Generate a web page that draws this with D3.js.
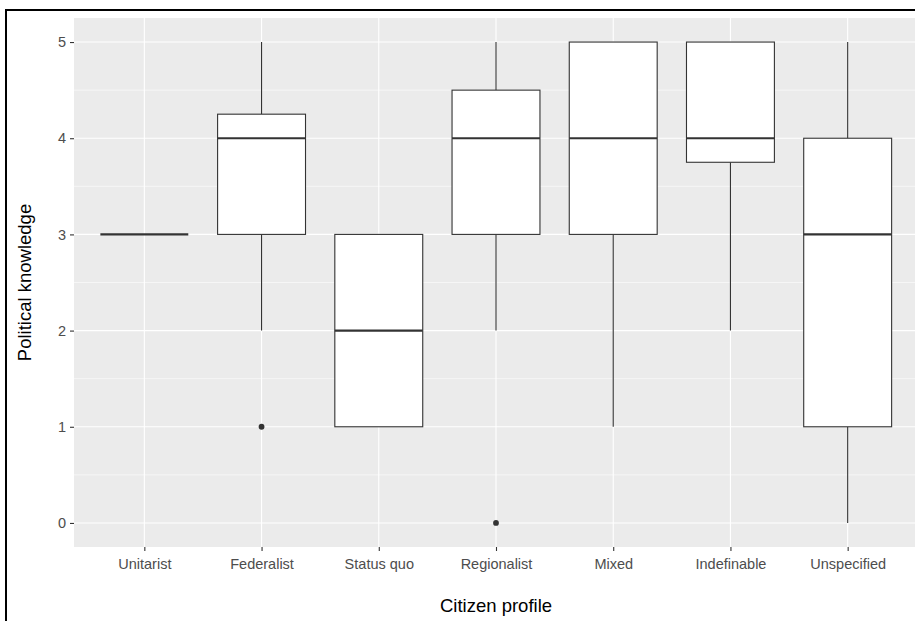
<!DOCTYPE html>
<html>
<head>
<meta charset="utf-8">
<script src="https://cdn.jsdelivr.net/npm/d3@7"></script>
<style>
  body { margin: 0; background: #fff; }
  svg { display: block; font-family: "Liberation Sans", Arial, sans-serif; }
</style>
</head>
<body>
<script>
const width = 915
const height = 621
const margin = {top: 18, right: -3, bottom: 74, left: 74}

// data
const categories = ["Unitarist", "Federalist", "Status quo", "Regionalist", "Mixed", "Indefinable", "Unspecified"]
const lowerWhisker = [3, 2, 1, 2, 1, 2, 0]
const q1           = [3, 3, 1, 3, 3, 3.75, 1]
const median       = [3, 4, 2, 4, 4, 4, 3]
const q3           = [3, 4.25, 3, 4.5, 5, 5, 4]
const upperWhisker = [3, 5, 3, 5, 5, 5, 5]
const outliers     = [[], [1], [], [0], [], [], []]
const yTicks = [0, 1, 2, 3, 4, 5]

const boxes = categories.map((c, i) => ({
  cat: c, lo: lowerWhisker[i], q1: q1[i], med: median[i], q3: q3[i], hi: upperWhisker[i], out: outliers[i]
}))

const svg = d3.select("body").append("svg")
  .attr("width", width)
  .attr("height", height)

const x0 = margin.left, x1 = width - margin.right
const y0 = margin.top, y1 = height - margin.bottom

// ggplot style discrete expansion of 0.6 on each side
const step = (x1 - x0) / (categories.length - 1 + 1.2)
const x = d3.scalePoint()
  .domain(categories)
  .range([x0 + 0.6 * step, x1 - 0.6 * step])

const y = d3.scaleLinear()
  .domain([-0.25, 5.25])
  .range([y1, y0])

const boxW = step * 0.75

// panel
svg.append("rect")
  .attr("x", x0).attr("y", y0)
  .attr("width", x1 - x0).attr("height", y1 - y0)
  .attr("fill", "#EBEBEB")

// minor grid
svg.append("g").selectAll("line")
  .data([-0.5, 0.5, 1.5, 2.5, 3.5, 4.5].filter(d => y(d) > y0 && y(d) < y1))
  .join("line")
  .attr("x1", x0).attr("x2", x1)
  .attr("y1", d => y(d)).attr("y2", d => y(d))
  .attr("stroke", "#fff").attr("stroke-width", 0.55)

// major grid
svg.append("g").selectAll("line")
  .data(yTicks)
  .join("line")
  .attr("x1", x0).attr("x2", x1)
  .attr("y1", d => y(d)).attr("y2", d => y(d))
  .attr("stroke", "#fff").attr("stroke-width", 1.1)

svg.append("g").selectAll("line")
  .data(categories)
  .join("line")
  .attr("x1", d => x(d)).attr("x2", d => x(d))
  .attr("y1", y0).attr("y2", y1)
  .attr("stroke", "#fff").attr("stroke-width", 1.1)

// boxplots
const g = svg.append("g").selectAll("g")
  .data(boxes)
  .join("g")

g.append("line")
  .attr("x1", d => x(d.cat)).attr("x2", d => x(d.cat))
  .attr("y1", d => y(d.hi)).attr("y2", d => y(d.q3))
  .attr("stroke", "#333").attr("stroke-width", 1.1)

g.append("line")
  .attr("x1", d => x(d.cat)).attr("x2", d => x(d.cat))
  .attr("y1", d => y(d.q1)).attr("y2", d => y(d.lo))
  .attr("stroke", "#333").attr("stroke-width", 1.1)

g.append("rect")
  .attr("x", d => x(d.cat) - boxW / 2)
  .attr("width", boxW)
  .attr("y", d => y(d.q3))
  .attr("height", d => y(d.q1) - y(d.q3))
  .attr("fill", "#fff")
  .attr("stroke", "#333").attr("stroke-width", 1.1)

g.append("line")
  .attr("x1", d => x(d.cat) - boxW / 2).attr("x2", d => x(d.cat) + boxW / 2)
  .attr("y1", d => y(d.med)).attr("y2", d => y(d.med))
  .attr("stroke", "#333").attr("stroke-width", 2.2)

g.selectAll("circle")
  .data(d => d.out.map(v => ({cat: d.cat, v})))
  .join("circle")
  .attr("cx", d => x(d.cat)).attr("cy", d => y(d.v))
  .attr("r", 2.9)
  .attr("fill", "#333")

// axes
const yAxis = svg.append("g")
  .attr("transform", `translate(${x0},0)`)
  .call(d3.axisLeft(y).tickValues(yTicks).tickSize(4).tickPadding(4).tickFormat(d3.format("d")))
yAxis.select(".domain").remove()

const xAxis = svg.append("g")
  .attr("transform", `translate(0,${y1})`)
  .call(d3.axisBottom(x).tickSize(4).tickPadding(8))
xAxis.select(".domain").remove()

svg.selectAll(".tick line").attr("stroke", "#333").attr("stroke-width", 1.1)
svg.selectAll(".tick text")
  .attr("fill", "#4D4D4D")
  .style("font-size", "14.5px")
  .style("font-family", "'Liberation Sans', Arial, sans-serif")

// axis titles
svg.append("text")
  .attr("x", (x0 + x1) / 2).attr("y", 612)
  .attr("text-anchor", "middle")
  .attr("fill", "#000")
  .style("font-size", "18.5px")
  .text("Citizen profile")

svg.append("text")
  .attr("transform", `translate(30.5,${(y0 + y1) / 2}) rotate(-90)`)
  .attr("text-anchor", "middle")
  .attr("fill", "#000")
  .style("font-size", "18.5px")
  .text("Political knowledge")

// outer frame of the screenshot
svg.append("rect")
  .attr("x", 6).attr("y", 10)
  .attr("width", width + 20).attr("height", height + 20)
  .attr("fill", "none")
  .attr("stroke", "#000").attr("stroke-width", 2)
</script>
</body>
</html>
